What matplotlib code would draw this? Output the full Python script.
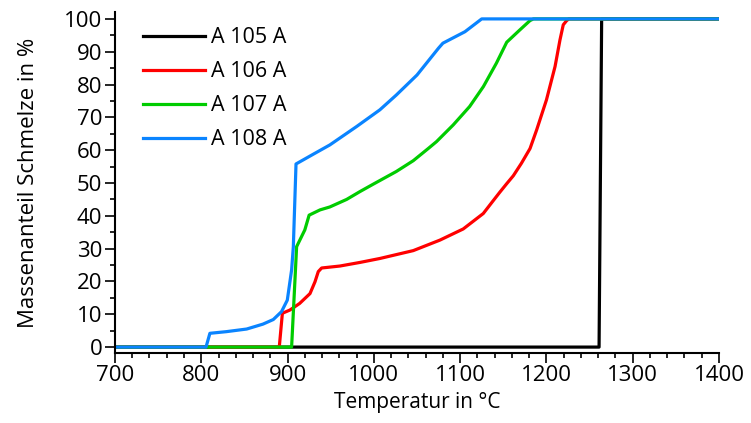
import matplotlib
matplotlib.use("Agg")
import matplotlib.pyplot as plt
from matplotlib.ticker import MultipleLocator

# -------- DATA --------
t_105 = [700, 1261, 1264, 1400]
m_105 = [0, 0, 100, 100]

t_106 = [700, 890.4, 894, 902.8, 914, 926, 931.8, 935.6, 939.5, 960.7, 984, 1007,
         1045.7, 1076.6, 1103.6, 1126.8, 1138, 1146, 1154, 1161.6, 1171, 1181,
         1188.7, 1200, 1210, 1215.7, 1219.5, 1223.5, 1226, 1400]
m_106 = [0, 0, 10.3, 11.3, 13.3, 16.3, 19.9, 23, 24.1, 24.7, 25.8, 27,
         29.4, 32.6, 36, 40.7, 44.5, 47.2, 49.8, 52.2, 56, 60.5,
         66.2, 75.3, 85.5, 93.6, 98.2, 99.5, 100, 100]

t_107 = [700, 904.7, 910.5, 920, 925, 937.6, 949, 968.5, 984, 999, 1026, 1045.7,
         1063, 1072.6, 1092, 1111, 1127, 1142, 1154, 1169, 1181, 1185, 1400]
m_107 = [0, 0, 30.6, 35.7, 40.2, 41.8, 42.7, 45, 47.4, 49.6, 53.5, 56.8,
         60.5, 62.6, 67.7, 73.3, 79.4, 86.5, 92.9, 96.6, 99.5, 100, 100]

t_108 = [700, 805.5, 810, 829, 852.6, 871.5, 883.5, 893, 899.7, 904.7, 906.7,
         909.8, 930, 949, 980, 1007, 1026, 1050, 1075, 1080, 1105.6, 1125, 1400]
m_108 = [0, 0, 4.2, 4.7, 5.5, 7, 8.4, 10.8, 14.3, 23.5, 30.6,
         55.8, 58.8, 61.6, 67.2, 72.3, 76.8, 82.9, 91.1, 92.6, 96.1, 100, 100]

labels = ["A 105 A", "A 106 A", "A 107 A", "A 108 A"]
colors = ["#000000", "#ff0000", "#00cc00", "#0a84ff"]

# -------- PLOT --------
plt.rcParams['font.family'] = ['Open Sans', 'DejaVu Sans']

fig = plt.figure(figsize=(7.51, 4.23), dpi=100)
ax = fig.add_axes([0.1531, 0.1655, 0.8043, 0.8061])

series = [(t_105, m_105), (t_106, m_106), (t_107, m_107), (t_108, m_108)]
for (t, m), lab, col in zip(series, labels, colors):
    ax.plot(t, m, color=col, lw=2.3, label=lab, solid_joinstyle='round')

ax.set_xlim(700, 1400)
ax.set_ylim(-1.8, 102.1)
ax.xaxis.set_major_locator(MultipleLocator(100))
ax.xaxis.set_minor_locator(MultipleLocator(20))
ax.yaxis.set_major_locator(MultipleLocator(10))
ax.yaxis.set_minor_locator(MultipleLocator(5))

for side in ['top', 'right']:
    ax.spines[side].set_visible(False)
for side in ['left', 'bottom']:
    ax.spines[side].set_linewidth(1.5)

ax.tick_params(which='major', direction='out', length=7, width=1.2,
               labelsize=16, pad=2)
ax.tick_params(which='minor', direction='out', length=3.5, width=1.2)

ax.set_xlabel("Temperatur in °C", fontsize=15, labelpad=4)
ax.set_ylabel("Massenanteil Schmelze in %", fontsize=16, labelpad=18)

ax.legend(loc='upper left', bbox_to_anchor=(0.032, 0.98), frameon=False,
          fontsize=15.5, handlelength=2.9, handletextpad=0.25,
          labelspacing=0.6, borderaxespad=0.0)

fig.savefig("out.png", dpi=100)
